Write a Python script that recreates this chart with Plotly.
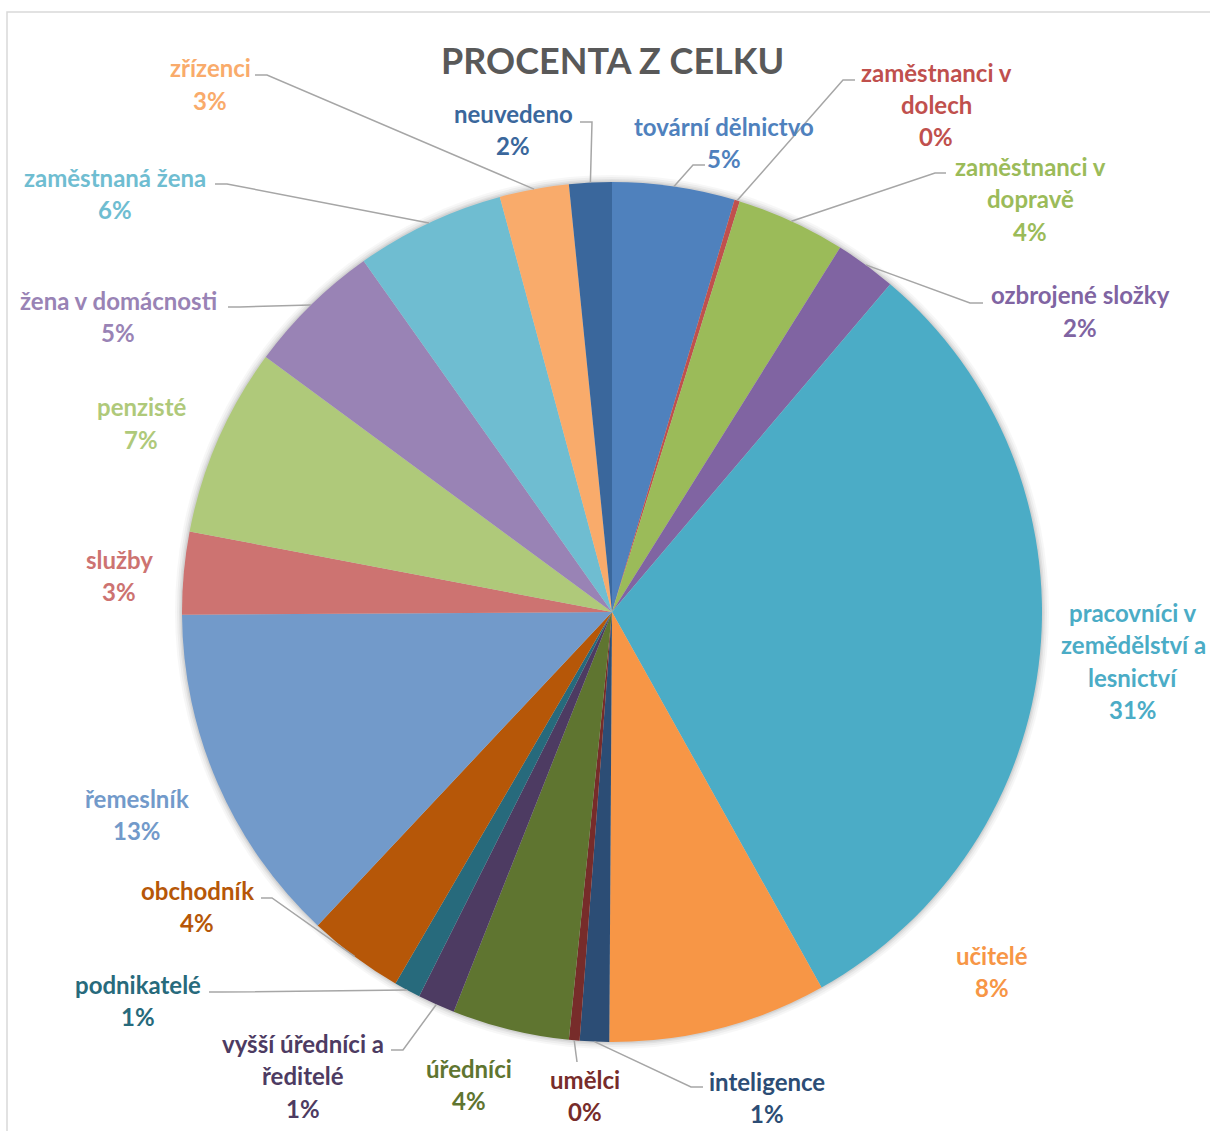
import math
import plotly.graph_objects as go

# ---- data (percent of total, clockwise from 12 o'clock) ----
categories = [
    "tovární dělnictvo", "zaměstnanci v dolech", "zaměstnanci v dopravě",
    "ozbrojené složky", "pracovníci v zemědělství a lesnictví", "učitelé",
    "inteligence", "umělci", "úředníci", "vyšší úředníci a ředitelé",
    "podnikatelé", "obchodník", "řemeslník", "služby", "penzisté",
    "žena v domácnosti", "zaměstnaná žena", "zřízenci", "neuvedeno",
]
values = [4.6, 0.2, 4.1, 2.3, 30.7, 8.2, 1.1, 0.4, 4.4, 1.4,
          1.0, 3.6, 12.9, 3.1, 7.1, 5.1, 5.6, 2.6, 1.6]
colors = [
    "#4F81BD", "#C0504D", "#9BBB59", "#8064A2", "#4BACC6", "#F79646",
    "#2C4D75", "#772C2A", "#5F7530", "#4D3B62", "#276A7C", "#B65708",
    "#729ACA", "#CD7371", "#AFC97A", "#9983B5", "#6FBDD1", "#F9AB6B",
    "#3A679C",
]

# ---- layout helpers (pixel positions of the data labels) ----
W, H = 1210, 1131
CX, CY, R = 612, 612, 430

# label line breaks as in the original
wrapped = {
    "zaměstnanci v dolech": ["zaměstnanci v", "dolech"],
    "zaměstnanci v dopravě": ["zaměstnanci v", "dopravě"],
    "pracovníci v zemědělství a lesnictví": ["pracovníci v", "zemědělství a", "lesnictví"],
    "vyšší úředníci a ředitelé": ["vyšší úředníci a", "ředitelé"],
}

# text centre (x, y of first line), leader start (x, y, stub length) or None
label_pos = [
    (724, 126, (705, 165, -12)),
    (936, 72, (855, 80, -12)),
    (1030, 166, (946, 173, -11)),
    (1080, 295, (983, 303, -13)),
    (1133, 612, None),
    (992, 955, None),
    (767, 1081, (703, 1087, -12)),
    (585, 1079, (577, 1062, 0)),
    (469, 1068, None),
    (303, 1043, (391, 1050, 12)),
    (138, 984, (209, 992, 12)),
    (197, 890, (261, 898, 11)),
    (137, 798, None),
    (119, 559, None),
    (141, 407, None),
    (118, 300, (228, 307, 12)),
    (115, 177, (215, 184, 12)),
    (210, 68, (255, 75, 12)),
    (513, 113, (580, 122, 12)),
]
LINE_GAP = 32.5
FONT = "Lato"


def px(x):
    return x / W


def py(y):
    return 1 - y / H


def dom(r):
    return dict(x=[px(CX - r), px(CX + r)], y=[py(CY + r), py(CY - r)])


fig = go.Figure()

# soft shadow round the pie
for k, a in [(7, 0.03), (5, 0.04), (3, 0.05), (1.5, 0.06)]:
    fig.add_trace(go.Pie(
        values=[1], marker=dict(colors=[f"rgba(0,0,0,{a})"], line=dict(width=0)),
        textinfo="none", hoverinfo="skip", sort=False, showlegend=False,
        domain=dom(R + k),
    ))

fig.add_trace(go.Pie(
    labels=categories,
    values=values,
    sort=False,
    direction="clockwise",
    rotation=0,
    marker=dict(colors=colors, line=dict(width=0)),
    textinfo="none",
    hoverinfo="label+percent",
    domain=dom(R),
    showlegend=False,
))

annotations = []
shapes = []
total = sum(values)
cum = 0.0
for name, val, col, pos in zip(categories, values, colors, label_pos):
    mid = (cum + val / 2) / total * 2 * math.pi
    cum += val
    lines = wrapped.get(name, [name]) + [f"{round(val / total * 100)}%"]
    tx, ty, lead = pos
    for i, line in enumerate(lines):
        annotations.append(dict(
            x=px(tx), y=py(ty + i * LINE_GAP), xref="paper", yref="paper",
            text=line, showarrow=False, xanchor="center", yanchor="middle",
            font=dict(family=FONT, size=24, color=col, weight=700),
        ))
    if lead:
        ax, ay, stub = lead
        ex = CX + R * math.sin(mid)
        ey = CY - R * math.cos(mid)
        path = (f"M {px(ax)} {py(ay)} L {px(ax + stub)} {py(ay)} "
                f"L {px(ex)} {py(ey)}")
        shapes.append(dict(type="path", path=path, xref="paper", yref="paper",
                           line=dict(color="#A6A6A6", width=1.5)))

# chart area border
shapes.append(dict(type="rect", xref="paper", yref="paper",
                   x0=px(7), x1=px(1230), y0=py(1150), y1=py(12),
                   line=dict(color="#D9D9D9", width=1.5), layer="below"))

annotations.append(dict(
    x=px(612), y=py(60), xref="paper", yref="paper",
    text="PROCENTA Z CELKU", showarrow=False,
    xanchor="center", yanchor="middle",
    font=dict(family=FONT, size=36, color="#595959", weight=700),
))

fig.update_layout(
    width=W, height=H,
    margin=dict(l=0, r=0, t=0, b=0),
    paper_bgcolor="white", plot_bgcolor="white",
    annotations=annotations, shapes=shapes,
)

fig.write_html("out.html", config={"displayModeBar": False},
               post_script="document.body.style.margin = '0';")
